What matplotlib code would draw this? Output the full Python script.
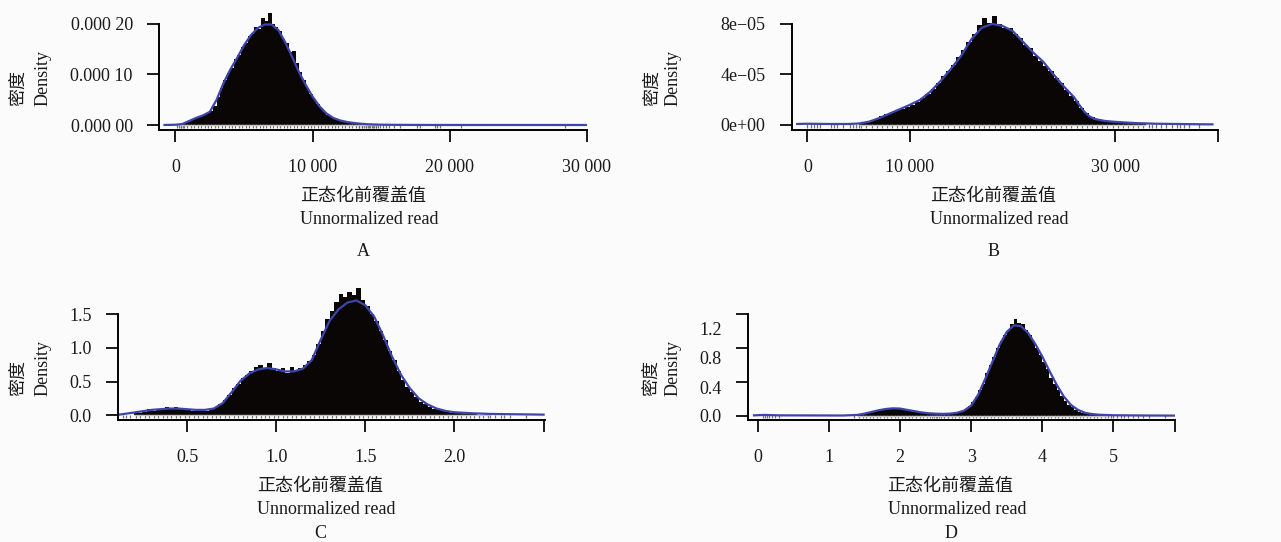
import matplotlib.pyplot as plt
import numpy as np

plt.rcParams['font.family'] = ['Liberation Serif', 'Noto Sans CJK SC']
plt.rcParams['text.color'] = '#1a1a1a'
plt.rcParams['xtick.color'] = '#1a1a1a'
plt.rcParams['ytick.color'] = '#1a1a1a'

W, H = 1281, 542

# ---- A: unnormalized read, sample 1 (density in units of 1e-4) ----
a_start, a_width = 250, 250
a_hist = [0.01, 0.03, 0.06, 0.09, 0.12, 0.15, 0.18, 0.20, 0.24, 0.28,
          0.38, 0.55, 0.74, 0.90, 1.02, 1.12, 1.30, 1.38, 1.55, 1.62,
          1.76, 1.80, 1.95, 1.90, 2.12, 2.05, 2.22, 2.00, 1.95, 1.86,
          1.70, 1.62, 1.45, 1.46, 1.22, 1.05, 0.90, 0.74, 0.62, 0.52,
          0.42, 0.33, 0.26, 0.20, 0.15, 0.12, 0.09, 0.08, 0.06, 0.05,
          0.04, 0.035, 0.03, 0.02, 0.012, 0.008, 0.006, 0.004, 0.003]
a_kde_x = [-800, 0, 500, 1000, 1500, 2000, 2500, 3000, 3500, 4000, 4500,
           5000, 5500, 6000, 6500, 7000, 7500, 8000, 8500, 9000, 9500,
           10000, 10500, 11000, 11500, 12000, 12500, 13000, 13500, 14000,
           15000, 16000, 18000, 20000, 30000]
a_kde_y = [0.001, 0.005, 0.02, 0.08, 0.14, 0.19, 0.26, 0.50, 0.83, 1.10,
           1.33, 1.58, 1.78, 1.92, 1.99, 1.99, 1.88, 1.64, 1.35, 1.05,
           0.79, 0.56, 0.37, 0.23, 0.14, 0.09, 0.06, 0.04, 0.025, 0.015,
           0.006, 0.003, 0.001, 0.0005, 0.0002]
a_rug = [100, 250, 400, 550, 13400, 13600, 13750, 13900, 14050, 14200,
         14350, 14500, 14650, 14750, 15100, 15350, 15600, 15900, 16350,
         17600, 17850, 18900, 19100, 19300, 20850, 28400]

# ---- B: unnormalized read, sample 2 (density in units of 1e-5) ----
b_start, b_width = 5000, 500
b_hist = [0.15, 0.22, 0.35, 0.50, 0.68, 0.85, 1.00, 1.15, 1.30, 1.45,
          1.60, 1.85, 2.10, 2.45, 2.85, 3.30, 3.85, 4.30, 4.75, 5.40,
          5.90, 6.60, 7.20, 7.90, 8.50, 8.10, 8.60, 8.00, 7.70, 7.70,
          7.20, 6.90, 6.30, 6.10, 5.50, 5.10, 4.70, 4.30, 3.70, 3.30,
          2.80, 2.30, 1.90, 1.35, 0.95, 0.65, 0.45, 0.35, 0.30, 0.25,
          0.22, 0.18, 0.15, 0.12, 0.10, 0.08]
b_kde_x = [-1000, 0, 2000, 4000, 5000, 6000, 7000, 8000, 9000, 10000,
           11000, 12000, 13000, 14000, 15000, 16000, 17000, 18000, 19000,
           20000, 21000, 22000, 23000, 24000, 25000, 26000, 26500, 27000,
           27500, 28000, 29000, 30000, 31000, 32000, 34000, 36000, 38000,
           39500]
b_kde_y = [0.08, 0.10, 0.08, 0.08, 0.12, 0.26, 0.55, 0.90, 1.25, 1.60,
           2.00, 2.65, 3.50, 4.45, 5.50, 6.80, 7.70, 8.00, 7.85, 7.45,
           6.60, 5.75, 5.00, 4.00, 3.05, 2.20, 1.60, 1.05, 0.68, 0.48,
           0.32, 0.25, 0.20, 0.15, 0.10, 0.08, 0.06, 0.05]
b_rug = [0, 300, 600, 900, 1200, 2300, 2600, 2900, 3500, 4100, 4400,
         4700, 5000, 33300, 33600, 34000, 34500, 35000, 35600, 36000,
         36300, 36700, 37200, 38200]

# ---- C ----
c_start, c_width = 0.2, 0.025
c_hist = [0.03, 0.04, 0.05, 0.09, 0.07, 0.09, 0.10, 0.12, 0.11, 0.12,
          0.10, 0.09, 0.08, 0.07, 0.09, 0.08, 0.07, 0.10, 0.12, 0.17,
          0.22, 0.30, 0.40, 0.47, 0.55, 0.60, 0.66, 0.72, 0.75, 0.68,
          0.78, 0.70, 0.66, 0.70, 0.62, 0.72, 0.65, 0.70, 0.74, 0.80,
          0.90, 1.05, 1.25, 1.42, 1.55, 1.68, 1.80, 1.75, 1.82, 1.78,
          1.88, 1.70, 1.62, 1.50, 1.40, 1.25, 1.12, 0.95, 0.82, 0.65,
          0.52, 0.42, 0.35, 0.27, 0.20, 0.17, 0.13, 0.10, 0.08, 0.07,
          0.05, 0.04, 0.035, 0.03, 0.02, 0.015, 0.012, 0.010, 0.008, 0.005]
c_kde_x = [0.12, 0.2, 0.25, 0.3, 0.35, 0.4, 0.45, 0.5, 0.55, 0.6, 0.65,
           0.7, 0.75, 0.8, 0.85, 0.9, 0.95, 1.0, 1.05, 1.1, 1.15, 1.2,
           1.25, 1.3, 1.35, 1.4, 1.45, 1.5, 1.55, 1.6, 1.65, 1.7, 1.75,
           1.8, 1.85, 1.9, 1.95, 2.0, 2.1, 2.2, 2.5]
c_kde_y = [0.01, 0.04, 0.06, 0.08, 0.09, 0.10, 0.10, 0.09, 0.08, 0.08,
           0.10, 0.18, 0.34, 0.51, 0.62, 0.68, 0.70, 0.68, 0.65, 0.65,
           0.69, 0.82, 1.12, 1.40, 1.57, 1.67, 1.70, 1.63, 1.46, 1.18,
           0.87, 0.60, 0.40, 0.25, 0.16, 0.10, 0.065, 0.045, 0.03, 0.02,
           0.01]
c_rug = [0.14, 0.16, 0.18, 2.2, 2.23, 2.26, 2.28, 2.31, 2.4]

# ---- D ----
d_start, d_width = 1.4, 0.05
d_hist = [0.01, 0.02, 0.03, 0.04, 0.055, 0.065, 0.07, 0.08, 0.085, 0.09,
          0.095, 0.085, 0.08, 0.075, 0.065, 0.06, 0.05, 0.045, 0.035, 0.03,
          0.028, 0.025, 0.022, 0.02, 0.022, 0.025, 0.03, 0.035, 0.045, 0.055,
          0.08, 0.11, 0.16, 0.22, 0.30, 0.38, 0.50, 0.60, 0.70, 0.80,
          0.88, 0.96, 1.02, 1.08, 1.15, 1.10, 1.08, 1.02, 0.96, 0.88,
          0.80, 0.72, 0.63, 0.55, 0.45, 0.37, 0.30, 0.23, 0.17, 0.13,
          0.10, 0.07, 0.05, 0.035, 0.025, 0.018, 0.012, 0.008, 0.006, 0.004]
d_kde_x = [-0.05, 0.1, 0.3, 1.2, 1.4, 1.5, 1.6, 1.7, 1.8, 1.9, 2.0, 2.1,
           2.2, 2.3, 2.4, 2.5, 2.6, 2.7, 2.8, 2.9, 3.0, 3.1, 3.2, 3.3, 3.4,
           3.5, 3.6, 3.7, 3.8, 3.9, 4.0, 4.1, 4.2, 4.3, 4.4, 4.5, 4.6, 4.7,
           4.8, 5.0, 5.5, 5.85]
d_kde_y = [0.005, 0.01, 0.005, 0.003, 0.01, 0.025, 0.045, 0.065, 0.08,
           0.088, 0.085, 0.07, 0.055, 0.04, 0.03, 0.025, 0.022, 0.025,
           0.035, 0.06, 0.12, 0.25, 0.44, 0.64, 0.84, 0.99, 1.07, 1.06,
           0.98, 0.85, 0.70, 0.53, 0.37, 0.23, 0.13, 0.07, 0.035, 0.02,
           0.012, 0.006, 0.003, 0.002]
d_rug = [0.08, 0.1, 0.13, 0.16, 0.2, 0.24, 0.3, 1.36, 2.45, 2.5, 2.55,
         2.62, 2.68, 4.92, 4.96, 5.0, 5.05, 5.1, 5.15, 5.2, 5.27, 5.35,
         5.42, 5.5, 5.72]

xlab_cn = '正态化前覆盖值'
xlab_en = 'Unnormalized read'
ylab_cn = '密度'
ylab_en = 'Density'

BAR = '#0b0606'
KDE = '#3d44aa'
TICK_FS = 13

fig = plt.figure(figsize=(W / 100, H / 100), dpi=100, facecolor='#fbfbfb')


def rect(x0, x1, ytop, ybot):
    return [x0 / W, 1 - ybot / H, (x1 - x0) / W, (ybot - ytop) / H]


def panel(r, start, width, heights, kx, ky, rug, scale, xlim, ylim,
          xticks, xlabels, yticks, ylabels):
    ax = fig.add_axes(r)
    ax.set_facecolor('none')
    h = np.asarray(heights) * scale
    left = start + width * np.arange(len(h))
    ax.bar(left, h, width=width, align='edge', color=BAR, linewidth=0)
    # rug along the bottom: one tick per filled bin plus the stray reads
    rx = np.concatenate([left[h > 0] + width / 2, rug])
    ax.vlines(rx, ylim[0] * 0.6, -ylim[0] * 0.15, color='#5a5a5a',
              lw=0.9, alpha=0.85)
    ax.hlines(0, left[0], left[-1] + width, color='#c4c4c4', lw=1.0)
    ax.plot(kx, np.asarray(ky) * scale, color=KDE, lw=1.6)
    ax.set_xlim(*xlim)
    ax.set_ylim(*ylim)
    ax.set_xticks(xticks, xlabels)
    ax.set_yticks(yticks, ylabels)
    ax.tick_params(direction='out', length=8.6, width=1.4,
                   labelsize=TICK_FS)
    ax.tick_params(axis='x', pad=12)
    ax.tick_params(axis='y', pad=10.5)
    for s in ['top', 'right']:
        ax.spines[s].set_visible(False)
    for s in ['left', 'bottom']:
        ax.spines[s].set_linewidth(1.4)
    ax.spines['left'].set_bounds(ylim[0], yticks[-1])
    return ax


def labels(xstart, xletter, letter, yaxis, ycn, yen, ystart, dletter):
    fig.text(xstart / W, 1 - (yaxis + 66) / H, xlab_cn, fontsize=13,
             ha='left', va='center', family='Noto Sans CJK SC')
    fig.text(xstart / W, 1 - (yaxis + 89) / H, xlab_en, fontsize=13,
             ha='left', va='center')
    fig.text(xletter / W, 1 - (yaxis + dletter) / H, letter, fontsize=13,
             ha='center', va='center')
    fig.text(ycn / W, 1 - ystart / H, ylab_cn, fontsize=13, rotation=90,
             ha='center', va='bottom', family='Noto Sans CJK SC')
    fig.text(yen / W, 1 - ystart / H, ylab_en, fontsize=13, rotation=90,
             ha='center', va='bottom')


panel(rect(159.3, 587, 5, 130), a_start, a_width, a_hist, a_kde_x, a_kde_y,
      a_rug, 1e-4, (-1180, 30000), (-9.9e-6, 2.376e-4),
      [0, 10000, 20000, 30000], ['0', '10 000', '20 000', '30 000'],
      [0, 1e-4, 2e-4], ['0.000 00', '0.000 10', '0.000 20'])

panel(rect(791.8, 1217.6, 5, 130), b_start, b_width, b_hist, b_kde_x, b_kde_y,
      b_rug, 1e-5, (-1530, 40000), (-3.96e-6, 9.5e-5),
      [0, 10000, 30000, 40000], ['0', '10 000', '30 000', ''],
      [0, 4e-5, 8e-5], ['0e+00', '4e\u221205', '8e\u221205'])

panel(rect(118.4, 545, 280, 420), c_start, c_width, c_hist, c_kde_x, c_kde_y,
      c_rug, 1.0, (0.115, 2.508), (-0.0696, 2.0035),
      [0.5, 1.0, 1.5, 2.0, 2.5], ['0.5', '1.0', '1.5', '2.0', ''],
      [0, 0.5, 1.0, 1.5], ['0.0', '0.5', '1.0', '1.5'])

axd = panel(rect(748.2, 1174.7, 300, 420), d_start, d_width, d_hist, d_kde_x,
            d_kde_y, d_rug, 1.0, (-0.132, 5.86), (-0.05, 1.369),
            [0, 1, 2, 3, 4, 5, 5.86], ['0', '1', '2', '3', '4', '5', ''],
            [0, 0.4, 0.8, 1.2], ['', '', '', ''])
# the labels on this axis sit a little below their tick marks
axd.yaxis.remove_overlapping_locs = False
axd.set_yticks([0.0, 0.33, 0.69, 1.03], ['0.0', '0.4', '0.8', '1.2'],
               minor=True)
axd.tick_params(axis='y', which='minor', length=0, pad=10.5 + 8.6,
                labelsize=TICK_FS)

labels(300, 363, 'A', 130, 18.4, 42.9, 106, 121)
labels(930, 994, 'B', 130, 652, 673, 106, 121)
labels(257, 320.5, 'C', 420, 18.4, 42.9, 396, 114)
labels(887.5, 951, 'D', 420, 651, 673, 396, 114)

fig.savefig('out.png', dpi=100, facecolor=fig.get_facecolor())
